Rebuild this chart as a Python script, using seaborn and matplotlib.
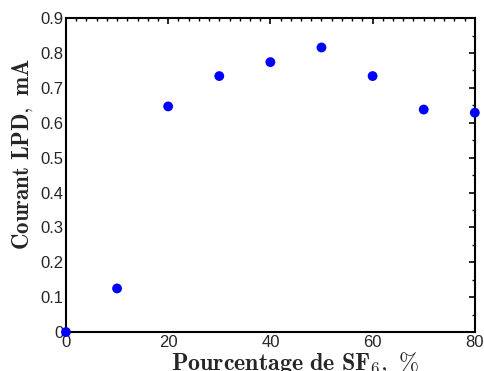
import matplotlib
matplotlib.use("Agg")
import matplotlib.pyplot as plt
from matplotlib.ticker import MultipleLocator
import seaborn as sns
import pandas as pd

# pourcentage de SF6 et courant LPD (mA)
sf6 = [0, 10, 20, 30, 40, 50, 60, 70, 80]
courant = [0.0, 0.125, 0.647, 0.734, 0.774, 0.816, 0.734, 0.638, 0.629]

df = pd.DataFrame({"SF6": sf6, "Courant": courant})

sns.set_style("white")
plt.rcParams["font.family"] = ["Liberation Sans", "DejaVu Sans"]
plt.rcParams["mathtext.fontset"] = "cm"

fig = plt.figure(figsize=(4.85, 3.71), dpi=100)
ax = fig.add_axes([0.136, 0.105, 0.843, 0.846])

sns.scatterplot(data=df, x="SF6", y="Courant", ax=ax, color="#0000ff",
                s=50, edgecolor="none", clip_on=False, zorder=5)

ax.set_xlim(0, 80)
ax.set_ylim(0, 0.9)
ax.xaxis.set_major_locator(MultipleLocator(20))
ax.xaxis.set_minor_locator(MultipleLocator(2))
ax.yaxis.set_major_locator(MultipleLocator(0.1))
ax.yaxis.set_minor_locator(MultipleLocator(0.05))
ax.yaxis.set_major_formatter(plt.FuncFormatter(lambda v, p: "0" if v == 0 else f"{v:.1f}"))

ax.tick_params(which="both", direction="in", top=True, right=True, color="black")
ax.tick_params(which="major", length=4, width=1.2, labelsize=12, pad=2)
ax.tick_params(which="minor", length=2, width=1.0)
for s in ax.spines.values():
    s.set_color("black")
    s.set_linewidth(1.5)

ax.set_xlabel(r"$\mathbf{Pourcentage\ de\ SF}_6\mathbf{,\ \%}$", fontsize=17.3)
ax.set_ylabel(r"$\mathbf{Courant\ LPD,\ mA}$", fontsize=16.5)
ax.xaxis.set_label_coords(0.56, -0.058, transform=ax.transAxes)
ax.yaxis.set_label_coords(-0.105, 0.567, transform=ax.transAxes)
ax.xaxis.label.set_va("top")
ax.yaxis.label.set_va("center")

fig.savefig("out.png", dpi=100)
